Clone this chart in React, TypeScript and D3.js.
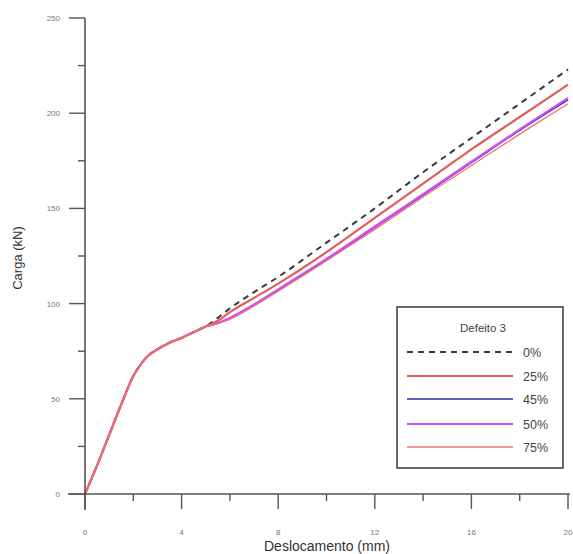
import React from "react";
import * as d3 from "d3";

const W = 573;
const H = 554;

const xTicksMajor = [0, 4, 8, 12, 16, 20];
const xTicksMinor = [2, 6, 10, 14, 18];
const yTicksMajor = [0, 50, 100, 150, 200, 250];
const yTicksMinor = [25, 75, 125, 175, 225];

const common: [number, number][] = [
  [0, 0], [0.5, 15], [1, 31], [1.5, 47], [2, 62], [2.3, 68], [2.6, 72.5],
  [3, 76], [3.5, 79.5], [4, 82], [4.5, 85], [5, 88],
];

const s0: [number, number][] = [
  [5.5, 92.5], [6, 97.5], [7, 106], [8, 114], [10, 132], [12, 150], [14, 169], [16, 187], [18, 205], [20, 223],
];
const s25: [number, number][] = [
  [5.5, 91], [6, 95.5], [7, 103], [8, 110.5], [10, 127], [12, 145], [14, 163], [16, 181], [18, 198], [20, 215],
];
const s45: [number, number][] = [
  [5.3, 89], [6, 92], [7, 99], [8, 107], [10, 123], [12, 140], [14, 157], [16, 174], [18, 191], [20, 207],
];
const s50: [number, number][] = [
  [5.3, 89], [6, 92.5], [7, 99.5], [8, 107.5], [10, 123.5], [12, 140.5], [14, 157.5], [16, 174.5], [18, 191.5], [20, 208],
];
const s75: [number, number][] = [
  [5.3, 88.8], [6, 91.8], [7, 98.8], [8, 106.5], [10, 122.5], [12, 139], [14, 156], [16, 172.5], [18, 189], [20, 205],
];

const seriesLabels = ["0%", "25%", "45%", "50%", "75%"];
const seriesColors = ["#3a3a3a", "#e25c5c", "#2a2ab0", "#d050f5", "#f07272"];
const seriesWidths = [2, 2.2, 1.4, 2.2, 1.3];
const seriesDash = ["6,5", "", "", "", ""];
const seriesData = [s0, s25, s45, s50, s75].map((s) => [...common, ...s]);
const drawOrder = [0, 2, 3, 1, 4];

export default function App() {
  const x = d3.scaleLinear().domain([0, 20]).range([85, 568]);
  const y = d3.scaleLinear().domain([0, 250]).range([494, 18]);
  const line = d3
    .line<[number, number]>()
    .x((d) => x(d[0]))
    .y((d) => y(d[1]))
    .curve(d3.curveMonotoneX);

  const axisColor = "#555";
  const labelColor = "#777";
  const font = "Liberation Sans, Arial, sans-serif";

  const legX = 397, legY = 307, legW = 166, legH = 161;
  const rowYs = [352, 376, 399, 424, 447];

  return (
    <svg
      width={W}
      height={H}
      style={{ position: "absolute", left: 0, top: 0, background: "#fff" }}
      fontFamily={font}
    >
      <rect x={0} y={0} width={W} height={H} fill="#fff" />
      {drawOrder.map((i) => (
        <path
          key={i}
          d={line(seriesData[i]) || ""}
          fill="none"
          stroke={seriesColors[i]}
          strokeWidth={seriesWidths[i]}
          strokeDasharray={seriesDash[i] || undefined}
        />
      ))}
      <line x1={68} x2={570} y1={y(0)} y2={y(0)} stroke={axisColor} strokeWidth={1.6} />
      <line x1={x(0)} x2={x(0)} y1={y(250)} y2={510} stroke={axisColor} strokeWidth={1.6} />
      {xTicksMajor.map((t) => (
        <g key={"xm" + t}>
          <line x1={x(t)} x2={x(t)} y1={y(0)} y2={y(0) + 15} stroke={axisColor} strokeWidth={1.4} />
          <text x={x(t)} y={535} fontSize={8} fill={labelColor} textAnchor="middle">
            {t}
          </text>
        </g>
      ))}
      {xTicksMinor.map((t) => (
        <line key={"xn" + t} x1={x(t)} x2={x(t)} y1={y(0)} y2={y(0) + 7} stroke={axisColor} strokeWidth={1.4} />
      ))}
      {yTicksMajor.map((t) => (
        <g key={"ym" + t}>
          <line x1={x(0) - 16} x2={x(0)} y1={y(t)} y2={y(t)} stroke={axisColor} strokeWidth={1.4} />
          <text x={60} y={y(t) + 3} fontSize={8} fill={labelColor} textAnchor="end">
            {t}
          </text>
        </g>
      ))}
      {yTicksMinor.map((t) => (
        <line key={"yn" + t} x1={x(0) - 7} x2={x(0)} y1={y(t)} y2={y(t)} stroke={axisColor} strokeWidth={1.4} />
      ))}
      <text x={327} y={551} fontSize={14} fill="#333" textAnchor="middle">
        Deslocamento (mm)
      </text>
      <text
        transform={`translate(22, 258) rotate(-90)`}
        fontSize={13}
        fill="#333"
        textAnchor="middle"
      >
        Carga (kN)
      </text>
      <rect x={legX} y={legY} width={legW} height={legH} fill="#fff" stroke="#444" strokeWidth={1.6} />
      <text x={483} y={332} fontSize={11.5} fill="#444" textAnchor="middle">
        Defeito 3
      </text>
      {seriesLabels.map((lab, i) => (
        <g key={lab}>
          <line
            x1={407}
            x2={513}
            y1={rowYs[i]}
            y2={rowYs[i]}
            stroke={seriesColors[i]}
            strokeWidth={seriesWidths[i]}
            strokeDasharray={seriesDash[i] || undefined}
          />
          <text x={523} y={rowYs[i] + 4.5} fontSize={12.5} fill="#444">
            {lab}
          </text>
        </g>
      ))}
    </svg>
  );
}
